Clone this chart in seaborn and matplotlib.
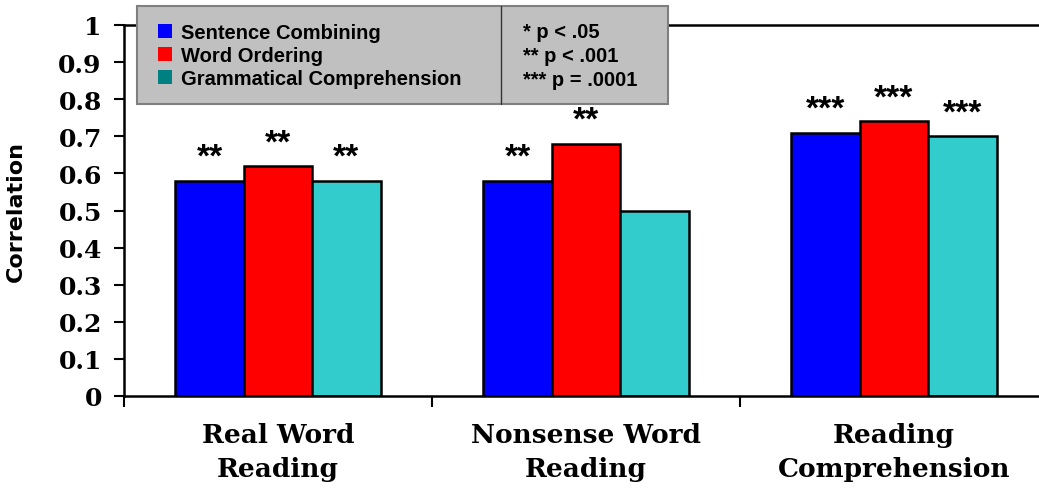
import matplotlib
matplotlib.use("Agg")
import matplotlib.pyplot as plt
from matplotlib.patches import Rectangle, Patch
from matplotlib.lines import Line2D
import seaborn as sns
import pandas as pd

# data
measures = ["Real Word\nReading", "Nonsense Word\nReading", "Reading\nComprehension"]
series = ["Sentence Combining", "Word Ordering", "Grammatical Comprehension"]
sentence_combining = [0.58, 0.58, 0.71]
word_ordering = [0.62, 0.68, 0.74]
grammatical_comp = [0.58, 0.50, 0.70]
stars = [["**", "**", "**"], ["**", "**", ""], ["***", "***", "***"]]  # per measure
p_notes = ["* p < .05", "** p < .001", "*** p = .0001"]

bar_colors = ["#0000FF", "#FF0000", "#33CCCC"]
legend_colors = ["#0000FF", "#FF0000", "#008080"]

rows = []
for name, vals in zip(series, [sentence_combining, word_ordering, grammatical_comp]):
    for m, v in zip(measures, vals):
        rows.append({"measure": m, "series": name, "r": v})
df = pd.DataFrame(rows)

sns.set_style("white", {"text.color": "black", "axes.labelcolor": "black",
                        "xtick.color": "black", "ytick.color": "black"})
fig = plt.figure(figsize=(10.39, 4.89), dpi=100)
ax = fig.add_axes([124 / 1039, 1 - 397 / 489, 924 / 1039, 371 / 489])

sns.barplot(data=df, x="measure", y="r", hue="series", order=measures,
            hue_order=series, palette=bar_colors, saturation=1, width=0.667,
            gap=0, edgecolor="black", linewidth=1.8, legend=False, ax=ax)

ax.set_xlim(-0.5, 2.5)
ax.set_ylim(0, 1)

# significance stars above the bars
for i, cont in enumerate(ax.containers):
    for j, bar in enumerate(cont):
        s = stars[j][i]
        if s:
            ax.text(bar.get_x() + bar.get_width() / 2, bar.get_height() + 0.04, s,
                    ha="center", va="baseline", fontsize=24, fontweight="bold",
                    family="Liberation Sans", color="black")

# axes styling
for side in ["left", "bottom", "top"]:
    ax.spines[side].set_visible(True)
    ax.spines[side].set_color("black")
    ax.spines[side].set_linewidth(1.8)
ax.spines["right"].set_visible(False)

ax.set_yticks([i / 10 for i in range(11)])
ax.set_yticklabels(["0"] + [f"0.{i}" for i in range(1, 10)] + ["1"],
                   family="DejaVu Serif", fontweight="bold", fontsize=18)
ax.tick_params(axis="y", direction="out", length=7, width=1.5, pad=9, left=True)

ax.set_xticks([-0.5, 0.5, 1.5, 2.5])
ax.set_xticklabels([])
ax.set_xticks([0, 1, 2], minor=True)
ax.set_xticklabels(measures, minor=True, family="DejaVu Serif", fontweight="bold",
                   fontsize=19, linespacing=1.45)
ax.tick_params(axis="x", which="major", direction="out", length=8, width=1.5, bottom=True)
ax.tick_params(axis="x", which="minor", length=0, pad=19)

ax.set_xlabel("")
ax.set_ylabel("Correlation", family="DejaVu Sans", fontweight="bold", fontsize=16)
ax.yaxis.set_label_coords(-0.106, 0.5)

# legend box with the p-value key
box = Rectangle((137 / 1039, 1 - 105 / 489), 531 / 1039, 98 / 489,
                transform=fig.transFigure, facecolor="#C0C0C0",
                edgecolor="#7F7F7F", linewidth=1.5, zorder=5)
fig.add_artist(box)
fig.add_artist(Line2D([501 / 1039, 501 / 1039], [1 - 105 / 489, 1 - 7 / 489],
                      transform=fig.transFigure, color="#333333", lw=1, zorder=6))

handles = [Patch(facecolor=c, edgecolor="none") for c in legend_colors]
leg = fig.legend(handles, series, loc="upper left",
                 bbox_to_anchor=(148 / 1039, 1 - 14 / 489), frameon=False,
                 prop={"family": "Liberation Sans", "weight": "bold", "size": 14.5},
                 handlelength=0.7, handleheight=0.7, handletextpad=0.45,
                 labelspacing=0.2, borderpad=0)
leg.set_zorder(7)

for k, note in enumerate(p_notes):
    fig.text(523 / 1039, 1 - (32 + 24 * k) / 489, note, ha="left", va="center",
             family="Liberation Sans", fontweight="bold", fontsize=14.5, zorder=7)

fig.savefig("out.png", dpi=100)
